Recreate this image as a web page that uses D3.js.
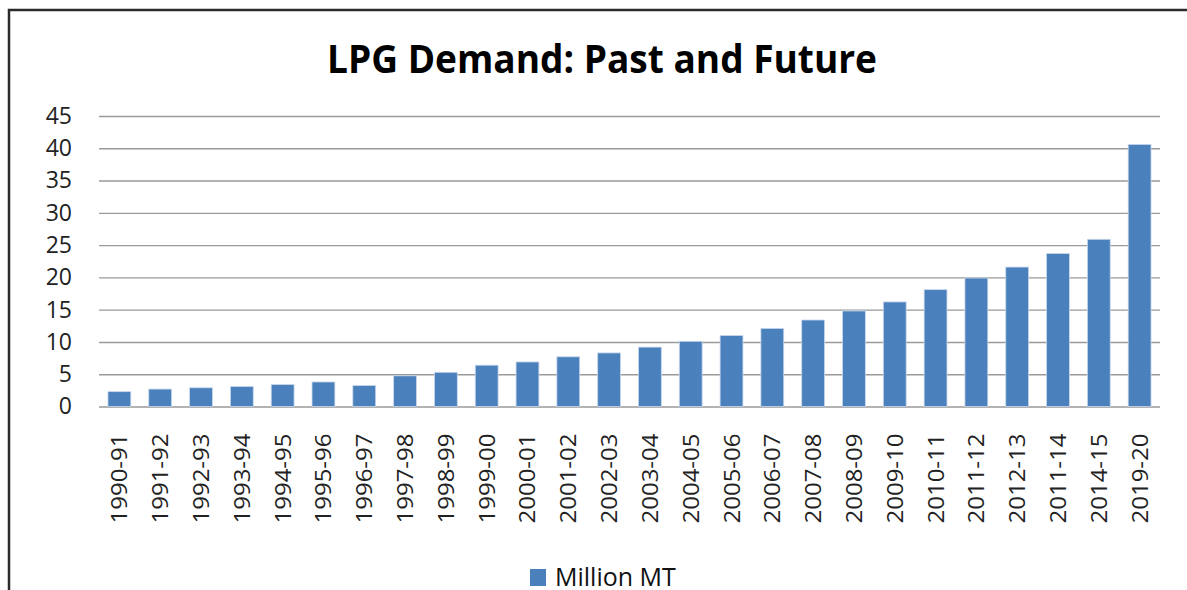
<!DOCTYPE html>
<html>
<head>
<meta charset="utf-8">
<script src="https://cdnjs.cloudflare.com/ajax/libs/d3/7.8.5/d3.min.js"></script>
<style>
  body { margin: 0; background: #fff; }
  svg { display: block; font-family: "Open Sans", sans-serif; }
</style>
</head>
<body>
<div id="root"></div>
<script>
const years = ['1990-91', '1991-92', '1992-93', '1993-94', '1994-95', '1995-96', '1996-97',
  '1997-98', '1998-99', '1999-00', '2000-01', '2001-02', '2002-03', '2003-04', '2004-05',
  '2005-06', '2006-07', '2007-08', '2008-09', '2009-10', '2010-11', '2011-12', '2012-13',
  '2011-14', '2014-15', '2019-20'];
const demand = [2.3, 2.7, 2.9, 3.1, 3.4, 3.8, 3.25, 4.75, 5.3, 6.4, 6.9, 7.7, 8.3, 9.2, 10.1,
  11.0, 12.1, 13.4, 14.8, 16.2, 18.1, 19.9, 21.6, 23.7, 25.9, 40.6];
const yTicks = [0, 5, 10, 15, 20, 25, 30, 35, 40, 45];
const seriesName = 'Million MT';

const w = 1187;
const h = 590;
const plotLeft = 99, plotRight = 1160, plotTop = 116, plotBottom = 406.5;
const barColor = '#4a81bd';

const svg = d3.select('#root')
  .append('svg')
  .attr('width', w)
  .attr('height', h);

// cadre (seulement haut et gauche visibles)
svg.append('path')
  .attr('d', `M9,${h} V10 H${w}`)
  .attr('fill', 'none')
  .attr('stroke', '#2b2b2b')
  .attr('stroke-width', 2.5);

// titre
svg.append('text')
  .attr('x', 602)
  .attr('y', 73)
  .attr('text-anchor', 'middle')
  .attr('font-size', 40)
  .attr('font-weight', 'bold')
  .attr('textLength', 550)
  .attr('lengthAdjust', 'spacingAndGlyphs')
  .attr('fill', '#000')
  .text('LPG Demand: Past and Future');

const xScale = d3.scaleBand()
  .domain(years)
  .range([plotLeft, plotRight])
  .paddingInner(0.44)
  .paddingOuter(0.22);

const yScale = d3.scaleLinear()
  .domain([0, 45])
  .range([plotBottom, plotTop]);

// asse y + griglia
const yAxis = d3.axisLeft(yScale)
  .tickValues(yTicks)
  .tickSize(-(plotRight - plotLeft))
  .tickPadding(27);
const gy = svg.append('g')
  .attr('transform', `translate(${plotLeft}, 0)`)
  .call(yAxis);
gy.select('.domain').remove();
gy.selectAll('line')
  .attr('stroke', '#9a9a9a')
  .attr('stroke-width', 1.4);
gy.selectAll('text')
  .attr('font-size', 23)
  .attr('font-family', '"Open Sans", sans-serif')
  .attr('fill', '#222');

// barre
svg.selectAll('rect.bar')
  .data(demand)
  .enter()
  .append('rect')
  .attr('class', 'bar')
  .attr('x', (d, i) => xScale(years[i]))
  .attr('y', d => yScale(d))
  .attr('width', xScale.bandwidth())
  .attr('height', d => yScale(0) - yScale(d))
  .attr('fill', barColor)
  .attr('stroke', '#c9d8ec')
  .attr('stroke-width', 0.8);

// asse x
const xAxis = d3.axisBottom(xScale).tickSize(0);
const gx = svg.append('g')
  .attr('transform', `translate(0, ${plotBottom})`)
  .call(xAxis);
gx.select('.domain').remove();
gx.selectAll('text')
  .attr('font-size', 21)
  .attr('font-family', '"Open Sans", sans-serif')
  .attr('fill', '#222')
  .attr('text-anchor', 'end')
  .attr('dy', null)
  .attr('y', 0)
  .attr('textLength', 90)
  .attr('lengthAdjust', 'spacingAndGlyphs')
  .attr('dominant-baseline', 'central')
  .attr('transform', 'translate(0, 27) rotate(-90)');

// legenda
const legend = svg.append('g');
legend.append('rect')
  .attr('x', 530)
  .attr('y', 569)
  .attr('width', 16)
  .attr('height', 17)
  .attr('fill', barColor);
legend.append('text')
  .attr('x', 555)
  .attr('y', 586)
  .attr('font-size', 25)
  .attr('fill', '#111')
  .text(seriesName);
</script>
</body>
</html>
